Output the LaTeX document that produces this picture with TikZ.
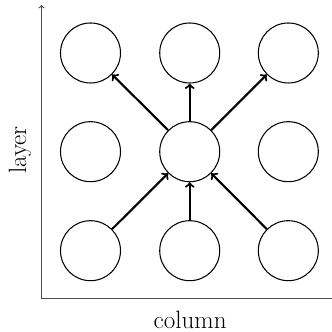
\documentclass[tikz,border=0pt]{standalone}
\usepackage{amsmath}

\begin{document}
\begin{tikzpicture}[scale=1]
                \tikzset{Cell/.style= {draw, circle, minimum size=1.6cm, inner sep=0pt, line width=0.8pt},
                         Flow/.style= {->, line width=1.6pt},
                         Axis/.style= {black!70, line width=0.8pt},
                         every node/.style= {font=\fontsize{19}{22}\selectfont}}
                \useasboundingbox (0,0) rectangle (8.827,8.853);
                \coordinate (O) at (1.107,0.893);
                \coordinate (Ytop) at (1.107,8.72);
                \coordinate (Xend) at (8.95,0.893);
                \draw[Axis, ->] (O) -- (Ytop);
                \draw[Axis] (O) -- (Xend);
                \node[Cell] (L1C1) at (2.413,2.168) {};
                \node[Cell] (L1C2) at (5.059,2.168) {};
                \node[Cell] (L1C3) at (7.688,2.168) {};
                \node[Cell] (L2C1) at (2.413,4.808) {};
                \node[Cell] (L2C2) at (5.059,4.808) {};
                \node[Cell] (L2C3) at (7.688,4.808) {};
                \node[Cell] (L3C1) at (2.413,7.440) {};
                \node[Cell] (L3C2) at (5.059,7.440) {};
                \node[Cell] (L3C3) at (7.688,7.440) {};
                \draw[Flow] (L1C1) -- (L2C2);
                \draw[Flow] (L1C2) -- (L2C2);
                \draw[Flow] (L1C3) -- (L2C2);
                \draw[Flow] (L2C2) -- (L3C1);
                \draw[Flow] (L2C2) -- (L3C2);
                \draw[Flow] (L2C2) -- (L3C3);
                \node (column) at (5.07,0.32) {column};
                \node[rotate=90] (layer) at (0.53,4.85) {layer};
            \end{tikzpicture}
\end{document}
